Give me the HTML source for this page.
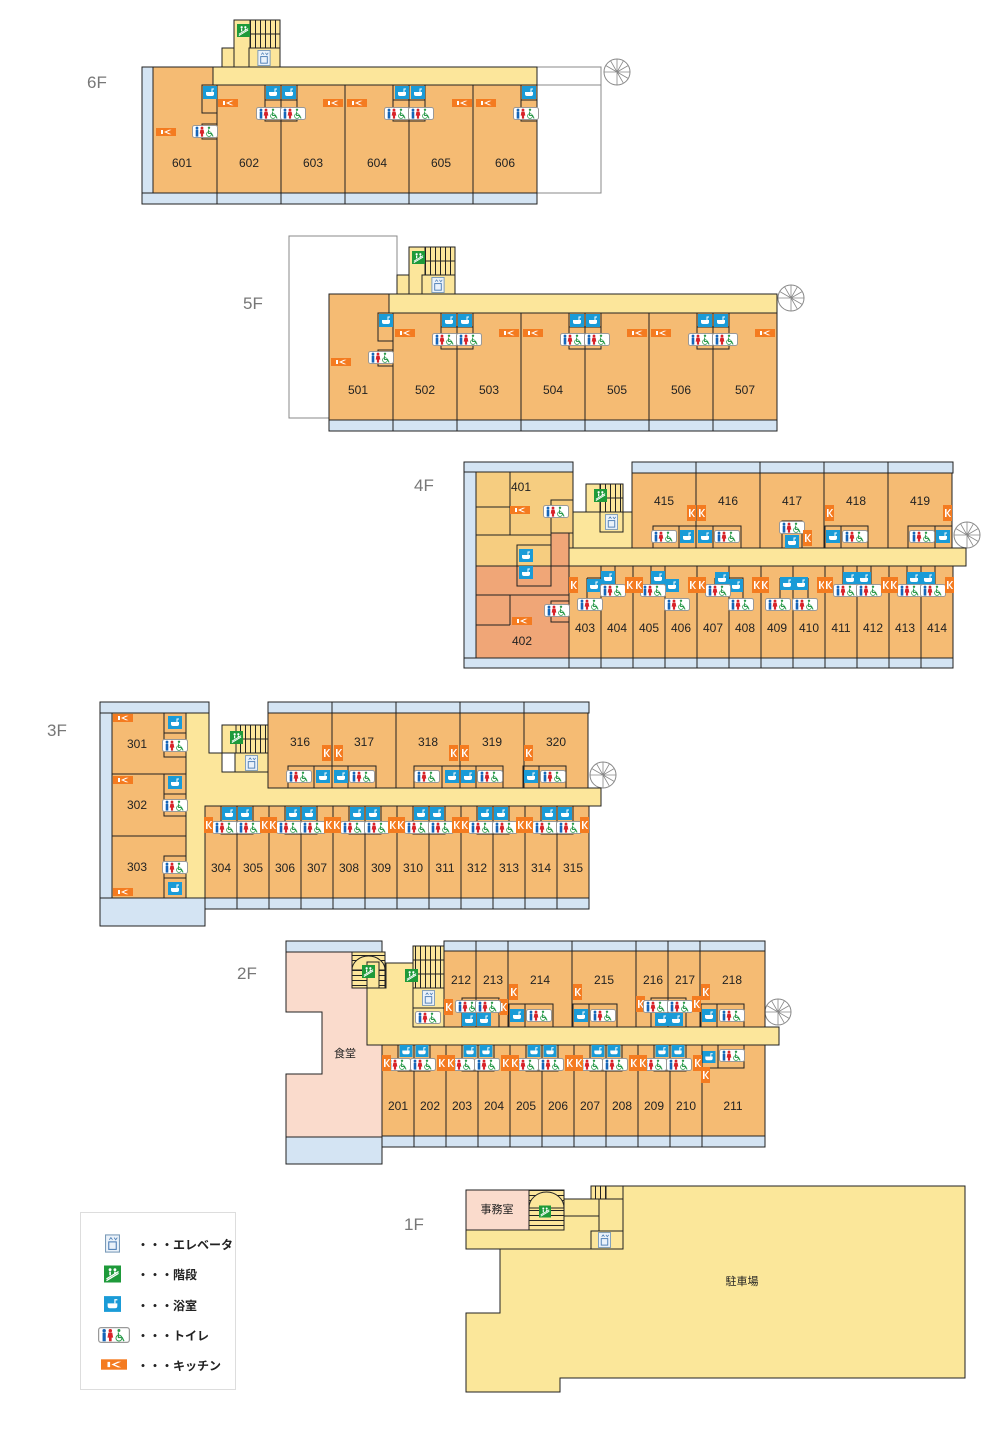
<!DOCTYPE html>
<html><head><meta charset="utf-8"><style>
html,body{margin:0;padding:0;background:#fff;width:1000px;height:1450px;overflow:hidden}
svg{display:block}
.r{fill:#F5BB73;stroke:#222;stroke-width:1}
.c{fill:#FCE69B;stroke:#222;stroke-width:1}
.bl{fill:#D4E4F3;stroke:#222;stroke-width:1}
.ln{stroke:#222;stroke-width:1;fill:none}
.g{stroke:#888;stroke-width:1;fill:none}
.n{font-family:"Liberation Sans",sans-serif;font-size:12px;text-anchor:middle;fill:#222}
.f{font-family:"Liberation Sans",sans-serif;font-size:17px;fill:#777}
.j{font-family:"Liberation Sans","Noto Sans CJK JP",sans-serif;font-size:11px;text-anchor:middle;fill:#222}
.lg{font-family:"Liberation Sans","Noto Sans CJK JP",sans-serif;font-size:12px;font-weight:bold;fill:#222}
</style></head><body>
<svg width="1000" height="1450" viewBox="0 0 1000 1450" xmlns="http://www.w3.org/2000/svg">
<defs>
<symbol id="b" viewBox="0 0 14 13"><rect width="14" height="13" fill="#1A9BD7"/><path d="M3 6h8v2q0 2-2 2h-4q-2 0-2-2z" fill="#fff"/><path d="M9 6v-3h2" stroke="#fff" fill="none"/></symbol>
<symbol id="t" viewBox="0 0 26 13"><rect x=".5" y=".5" width="25" height="12" rx="2" fill="#fff" stroke="#999"/><circle cx="5" cy="3" r="1.4" fill="#1565B8"/><rect x="3.7" y="4.6" width="2.6" height="7" fill="#1565B8"/><circle cx="10" cy="3" r="1.4" fill="#D8232A"/><path d="M8.4 4.6h3.2l.7 4h-1.2v3h-2.2v-3h-1.2z" fill="#D8232A"/><circle cx="17" cy="2.8" r="1.2" fill="#2A9A4A"/><path d="M16.6 4.5v4h3l1.5 3" stroke="#2A9A4A" fill="none"/><circle cx="17" cy="9" r="2.4" stroke="#2A9A4A" fill="none" stroke-width=".8"/></symbol>
<symbol id="kh" viewBox="0 0 20 8"><rect width="20" height="8" fill="#F47B20"/><path d="M5 2h2v4h-2zM8 4l5-2.2h2.5l-5 2.2 5 2.2h-2.5z" fill="#fff"/></symbol>
<symbol id="kv" viewBox="0 0 9 16"><rect width="9" height="16" fill="#F47B20"/><path d="M2 4h1.6v8h-1.6zM3.6 8l3-4h1.5l-3 4 3 4h-1.5z" fill="#fff"/></symbol>
<symbol id="el" viewBox="0 0 14 17"><rect x=".5" y=".5" width="13" height="16" fill="#EAF2FA" stroke="#7a9ab8"/><rect x="3.5" y="7" width="7" height="7" fill="none" stroke="#4d7eb5"/><path d="M4 5l1.5-2 1.5 2M8.5 3l1.5 2 1.5-2" stroke="#4d7eb5" fill="none" stroke-width=".8"/></symbol>
<symbol id="st" viewBox="0 0 14 14"><rect width="14" height="14" fill="#1E9A3A"/><path d="M2 11l10-6M2 12.5l10-6" stroke="#fff" stroke-width="1"/><circle cx="5" cy="3.5" r="1.2" fill="#fff"/><circle cx="9" cy="3.5" r="1.2" fill="#fff"/><path d="M5 5v3M9 5v2" stroke="#fff" stroke-width="1.3"/></symbol>
<symbol id="sp" viewBox="0 0 28 28"><circle cx="14" cy="14" r="13" fill="#fff" stroke="#888"/><path d="M14 14L14 1M14 14L20.5 2.7M14 14L25.3 7.5M14 14L27 14M14 14L25.3 20.5M14 14L20.5 25.3M14 14L14 27M14 14L7.5 2.7M14 14L2.7 7.5M14 14L1 14" stroke="#888" stroke-width=".8"/></symbol>
<pattern id="stp" width="5" height="5" patternUnits="userSpaceOnUse"><rect width="5" height="5" fill="#FCE69B"/><path d="M0.5 0V5" stroke="#222" stroke-width="1"/></pattern>
<pattern id="sth" width="5" height="5" patternUnits="userSpaceOnUse"><rect width="5" height="5" fill="#FCE69B"/><path d="M0 0.5H5" stroke="#222" stroke-width="1"/></pattern>
</defs>

<!-- ================= 6F ================= -->
<text class="f" x="87" y="88">6F</text>
<rect class="g" x="537" y="67" width="64" height="126"/>
<line class="g" x1="537" y1="85" x2="601" y2="85"/>
<use href="#sp" x="603" y="58" width="28" height="28"/>
<rect class="c" x="222" y="48" width="14" height="19"/>
<rect class="c" x="234" y="20" width="46" height="47"/>
<rect x="250" y="20" width="30" height="28" fill="url(#stp)" stroke="#222"/>
<line class="ln" x1="250" y1="34" x2="280" y2="34"/>
<rect class="c" x="249" y="48" width="31" height="19"/>
<use href="#el" x="257" y="50" width="14" height="16"/>
<use href="#st" x="237" y="24" width="13" height="13"/>
<rect class="bl" x="142" y="67" width="11" height="137"/>
<rect class="c" x="213" y="67" width="324" height="18"/>
<path class="r" d="M153 67H213V85H217V193H153Z"/>
<rect class="r" x="217" y="85" width="64" height="108"/>
<rect class="r" x="281" y="85" width="64" height="108"/>
<rect class="r" x="345" y="85" width="64" height="108"/>
<rect class="r" x="409" y="85" width="64" height="108"/>
<rect class="r" x="473" y="85" width="64" height="108"/>
<rect class="bl" x="142" y="193" width="395" height="11"/>
<path class="ln" d="M217 193V204M281 193V204M345 193V204M409 193V204M473 193V204"/>
<rect class="ln" x="202" y="85" width="15" height="28"/>
<rect class="ln" x="202" y="124" width="15" height="15"/>
<rect class="ln" x="265" y="85" width="32" height="36"/><path class="ln" d="M265 100H297"/>
<rect class="ln" x="393" y="85" width="32" height="36"/><path class="ln" d="M393 100H425"/>
<rect class="ln" x="521" y="85" width="16" height="36"/><path class="ln" d="M521 100H537"/>
<use href="#b" x="203" y="86" width="14" height="13"/><use href="#b" x="266" y="86" width="14" height="13"/><use href="#b" x="282" y="86" width="14" height="13"/><use href="#b" x="395" y="86" width="14" height="13"/><use href="#b" x="411" y="86" width="14" height="13"/><use href="#b" x="522" y="86" width="14" height="13"/>
<use href="#t" x="192" y="125" width="26" height="13"/><use href="#t" x="256" y="107" width="26" height="13"/><use href="#t" x="280" y="107" width="26" height="13"/><use href="#t" x="384" y="107" width="26" height="13"/><use href="#t" x="408" y="107" width="26" height="13"/><use href="#t" x="513" y="107" width="26" height="13"/>
<use href="#kh" x="156" y="128" width="20" height="8"/><use href="#kh" x="218" y="99" width="20" height="8"/><use href="#kh" x="323" y="99" width="20" height="8"/><use href="#kh" x="347" y="99" width="20" height="8"/><use href="#kh" x="452" y="99" width="20" height="8"/><use href="#kh" x="476" y="99" width="20" height="8"/>
<text class="n" x="182" y="167">601</text><text class="n" x="249" y="167">602</text><text class="n" x="313" y="167">603</text><text class="n" x="377" y="167">604</text><text class="n" x="441" y="167">605</text><text class="n" x="505" y="167">606</text>

<!-- ================= 5F ================= -->
<text class="f" x="243" y="309">5F</text>
<rect class="g" x="289" y="236" width="108" height="182"/>
<use href="#sp" x="777" y="284" width="28" height="28"/>
<rect class="c" x="397" y="275" width="14" height="19"/>
<rect class="c" x="409" y="247" width="46" height="47"/>
<rect x="425" y="247" width="30" height="28" fill="url(#stp)" stroke="#222"/>
<line class="ln" x1="425" y1="261" x2="455" y2="261"/>
<rect class="c" x="422" y="275" width="33" height="19"/>
<use href="#el" x="431" y="277" width="14" height="16"/>
<use href="#st" x="412" y="251" width="13" height="13"/>
<rect class="c" x="389" y="294" width="388" height="19"/>
<path class="r" d="M329 294H389V313H393V420H329Z"/>
<rect class="r" x="393" y="313" width="64" height="107"/>
<rect class="r" x="457" y="313" width="64" height="107"/>
<rect class="r" x="521" y="313" width="64" height="107"/>
<rect class="r" x="585" y="313" width="64" height="107"/>
<rect class="r" x="649" y="313" width="64" height="107"/>
<rect class="r" x="713" y="313" width="64" height="107"/>
<rect class="bl" x="329" y="420" width="448" height="11"/>
<path class="ln" d="M393 420V431M457 420V431M521 420V431M585 420V431M649 420V431M713 420V431"/>
<rect class="ln" x="378" y="313" width="15" height="28"/>
<rect class="ln" x="378" y="350" width="15" height="16"/>
<rect class="ln" x="441" y="313" width="32" height="36"/><path class="ln" d="M441 327H473"/>
<rect class="ln" x="569" y="313" width="32" height="36"/><path class="ln" d="M569 327H601"/>
<rect class="ln" x="697" y="313" width="32" height="36"/><path class="ln" d="M697 327H729"/>
<use href="#b" x="379" y="314" width="14" height="13"/><use href="#b" x="442" y="314" width="14" height="13"/><use href="#b" x="458" y="314" width="14" height="13"/><use href="#b" x="570" y="314" width="14" height="13"/><use href="#b" x="586" y="314" width="14" height="13"/><use href="#b" x="698" y="314" width="14" height="13"/><use href="#b" x="714" y="314" width="14" height="13"/>
<use href="#t" x="368" y="351" width="26" height="13"/><use href="#t" x="432" y="333" width="26" height="13"/><use href="#t" x="456" y="333" width="26" height="13"/><use href="#t" x="560" y="333" width="26" height="13"/><use href="#t" x="584" y="333" width="26" height="13"/><use href="#t" x="688" y="333" width="26" height="13"/><use href="#t" x="712" y="333" width="26" height="13"/>
<use href="#kh" x="331" y="358" width="20" height="8"/><use href="#kh" x="395" y="329" width="20" height="8"/><use href="#kh" x="499" y="329" width="20" height="8"/><use href="#kh" x="523" y="329" width="20" height="8"/><use href="#kh" x="627" y="329" width="20" height="8"/><use href="#kh" x="651" y="329" width="20" height="8"/><use href="#kh" x="755" y="329" width="20" height="8"/>
<text class="n" x="358" y="394">501</text><text class="n" x="425" y="394">502</text><text class="n" x="489" y="394">503</text><text class="n" x="553" y="394">504</text><text class="n" x="617" y="394">505</text><text class="n" x="681" y="394">506</text><text class="n" x="745" y="394">507</text>

<!-- ================= 4F ================= -->
<text class="f" x="414" y="491">4F</text>
<use href="#sp" x="953" y="521" width="28" height="28"/>
<rect class="bl" x="464" y="462" width="109" height="10"/>
<rect class="bl" x="464" y="472" width="12" height="186"/>
<rect x="476" y="472" width="97" height="94" fill="#F6CD80" stroke="#222"/>
<rect x="476" y="566" width="93" height="92" fill="#F0A677" stroke="#222"/>
<rect x="551" y="533" width="18" height="33" fill="#F0A677" stroke="#222"/>
<rect class="ln" x="476" y="507" width="34" height="28"/>
<path class="ln" d="M476 535H551M510 507V472"/>
<rect class="ln" x="517" y="545" width="34" height="21"/>
<rect class="ln" x="517" y="566" width="34" height="20"/>
<rect class="ln" x="551" y="500" width="22" height="33"/>
<path class="ln" d="M476 595H569M510 595V625M476 625H510"/>
<rect class="ln" x="551" y="601" width="18" height="21"/>
<rect class="c" x="573" y="512" width="59" height="36"/>
<rect class="c" x="569" y="548" width="397" height="18"/>
<rect x="586" y="484" width="37" height="28" fill="url(#stp)" stroke="#222"/>
<rect class="c" x="586" y="484" width="14" height="28"/>
<line class="ln" x1="600" y1="498" x2="623" y2="498"/>
<rect class="c" x="600" y="512" width="23" height="20"/>
<use href="#el" x="605" y="514" width="13" height="16"/>
<use href="#st" x="594" y="489" width="13" height="13"/>
<rect class="bl" x="632" y="462" width="321" height="11"/>
<path class="ln" d="M696 462V473M760 462V473M824 462V473M888 462V473"/>
<rect class="r" x="632" y="473" width="64" height="75"/><rect class="r" x="696" y="473" width="64" height="75"/><rect class="r" x="760" y="473" width="64" height="75"/><rect class="r" x="824" y="473" width="64" height="75"/><rect class="r" x="888" y="473" width="64" height="75"/>
<rect class="ln" x="653" y="526" width="88" height="22"/><path class="ln" d="M679 526V548M713 526V548"/>
<rect class="ln" x="825" y="526" width="43" height="22"/><path class="ln" d="M841 526V548"/>
<rect class="ln" x="908" y="526" width="44" height="22"/><path class="ln" d="M935 526V548"/>
<rect class="ln" x="782" y="521" width="20" height="27"/>
<rect class="r" x="569" y="566" width="32" height="92"/><rect class="r" x="601" y="566" width="32" height="92"/><rect class="r" x="633" y="566" width="32" height="92"/><rect class="r" x="665" y="566" width="32" height="92"/><rect class="r" x="697" y="566" width="32" height="92"/><rect class="r" x="729" y="566" width="32" height="92"/><rect class="r" x="761" y="566" width="32" height="92"/><rect class="r" x="793" y="566" width="32" height="92"/><rect class="r" x="825" y="566" width="32" height="92"/><rect class="r" x="857" y="566" width="32" height="92"/><rect class="r" x="889" y="566" width="32" height="92"/><rect class="r" x="921" y="566" width="32" height="92"/>
<rect class="bl" x="464" y="658" width="489" height="10"/>
<path class="ln" d="M569 658V668M601 658V668M633 658V668M665 658V668M697 658V668M729 658V668M761 658V668M793 658V668M825 658V668M857 658V668M889 658V668M921 658V668"/>
<path class="ln" d="M587 578H601M587 578V611M615 566V585M651 566V597M665 578H651M665 578V611M729 578H715M715 578V597M729 578H743V611M780 578V611M808 578V611M843 566V597M871 566V597M907 566V597M935 566V597"/>
<!-- 4F icons -->
<use href="#b" x="680" y="530" width="14" height="13"/><use href="#b" x="698" y="530" width="14" height="13"/><use href="#b" x="785" y="535" width="14" height="13"/><use href="#b" x="826" y="530" width="14" height="13"/><use href="#b" x="936" y="530" width="14" height="13"/>
<use href="#t" x="651" y="530" width="26" height="13"/><use href="#t" x="714" y="530" width="26" height="13"/><use href="#t" x="779" y="521" width="26" height="13"/><use href="#t" x="842" y="530" width="26" height="13"/><use href="#t" x="909" y="530" width="26" height="13"/>
<use href="#kv" x="687" y="505" width="9" height="16"/><use href="#kv" x="697" y="505" width="9" height="16"/><use href="#kv" x="803" y="530" width="9" height="16"/><use href="#kv" x="825" y="505" width="9" height="16"/><use href="#kv" x="943" y="505" width="9" height="16"/>
<use href="#t" x="543" y="505" width="26" height="13"/><use href="#kh" x="510" y="506" width="20" height="8"/>
<use href="#b" x="519" y="549" width="14" height="13"/><use href="#b" x="519" y="566" width="14" height="13"/>
<use href="#t" x="544" y="604" width="26" height="13"/><use href="#kh" x="512" y="617" width="20" height="8"/>
<use href="#b" x="587" y="579" width="14" height="13"/><use href="#b" x="601" y="571" width="14" height="13"/><use href="#b" x="651" y="571" width="14" height="13"/><use href="#b" x="665" y="579" width="14" height="13"/><use href="#b" x="715" y="572" width="14" height="13"/><use href="#b" x="729" y="579" width="14" height="13"/><use href="#b" x="780" y="577" width="14" height="13"/><use href="#b" x="794" y="577" width="14" height="13"/><use href="#b" x="843" y="572" width="14" height="13"/><use href="#b" x="857" y="572" width="14" height="13"/><use href="#b" x="907" y="572" width="14" height="13"/><use href="#b" x="921" y="572" width="14" height="13"/>
<use href="#t" x="577" y="598" width="26" height="13"/><use href="#t" x="600" y="584" width="26" height="13"/><use href="#t" x="640" y="584" width="26" height="13"/><use href="#t" x="664" y="598" width="26" height="13"/><use href="#t" x="705" y="584" width="26" height="13"/><use href="#t" x="728" y="598" width="26" height="13"/><use href="#t" x="765" y="598" width="26" height="13"/><use href="#t" x="792" y="598" width="26" height="13"/><use href="#t" x="833" y="584" width="26" height="13"/><use href="#t" x="856" y="584" width="26" height="13"/><use href="#t" x="897" y="584" width="26" height="13"/><use href="#t" x="920" y="584" width="26" height="13"/>
<use href="#kv" x="569" y="577" width="9" height="16"/><use href="#kv" x="625" y="577" width="9" height="16"/><use href="#kv" x="634" y="577" width="9" height="16"/><use href="#kv" x="688" y="577" width="9" height="16"/><use href="#kv" x="697" y="577" width="9" height="16"/><use href="#kv" x="752" y="577" width="9" height="16"/><use href="#kv" x="760" y="577" width="9" height="16"/><use href="#kv" x="817" y="577" width="9" height="16"/><use href="#kv" x="824" y="577" width="9" height="16"/><use href="#kv" x="881" y="577" width="9" height="16"/><use href="#kv" x="889" y="577" width="9" height="16"/><use href="#kv" x="945" y="577" width="9" height="16"/>
<text class="n" x="521" y="491">401</text><text class="n" x="522" y="645">402</text>
<text class="n" x="664" y="505">415</text><text class="n" x="728" y="505">416</text><text class="n" x="792" y="505">417</text><text class="n" x="856" y="505">418</text><text class="n" x="920" y="505">419</text>
<text class="n" x="585" y="632">403</text><text class="n" x="617" y="632">404</text><text class="n" x="649" y="632">405</text><text class="n" x="681" y="632">406</text><text class="n" x="713" y="632">407</text><text class="n" x="745" y="632">408</text><text class="n" x="777" y="632">409</text><text class="n" x="809" y="632">410</text><text class="n" x="841" y="632">411</text><text class="n" x="873" y="632">412</text><text class="n" x="905" y="632">413</text><text class="n" x="937" y="632">414</text>

<!-- ================= 3F ================= -->
<text class="f" x="47" y="736">3F</text>
<use href="#sp" x="589" y="761" width="28" height="28"/>
<rect class="bl" x="100" y="702" width="109" height="11"/>
<rect class="bl" x="100" y="713" width="12" height="185"/>
<rect class="r" x="112" y="713" width="74" height="61"/><rect class="r" x="112" y="774" width="74" height="62"/><rect class="r" x="112" y="836" width="74" height="62"/>
<rect class="ln" x="164" y="713" width="22" height="20"/><rect class="ln" x="164" y="733" width="22" height="24"/>
<rect class="ln" x="164" y="774" width="22" height="20"/><rect class="ln" x="164" y="794" width="22" height="22"/>
<rect class="ln" x="164" y="856" width="22" height="22"/><rect class="ln" x="164" y="878" width="22" height="20"/>
<path class="c" d="M186 713H209V753H222V772H268V788H601V806H205V898H186Z"/>
<rect x="222" y="725" width="46" height="28" fill="url(#stp)" stroke="#222"/>
<rect class="c" x="222" y="725" width="14" height="28"/>
<line class="ln" x1="236" y1="739" x2="268" y2="739"/>
<rect class="c" x="235" y="753" width="33" height="19"/>
<use href="#el" x="245" y="755" width="13" height="16"/>
<use href="#st" x="230" y="731" width="13" height="13"/>
<rect class="bl" x="100" y="898" width="105" height="28"/>
<rect class="bl" x="268" y="702" width="321" height="11"/>
<path class="ln" d="M332 702V713M396 702V713M460 702V713M524 702V713"/>
<rect class="r" x="268" y="713" width="64" height="75"/><rect class="r" x="332" y="713" width="64" height="75"/><rect class="r" x="396" y="713" width="64" height="75"/><rect class="r" x="460" y="713" width="64" height="75"/><rect class="r" x="524" y="713" width="64" height="75"/>
<rect class="ln" x="288" y="766" width="88" height="22"/><path class="ln" d="M314 766V788M332 766V788M348 766V788"/>
<rect class="ln" x="414" y="766" width="89" height="22"/><path class="ln" d="M442 766V788M460 766V788M476 766V788"/>
<rect class="ln" x="523" y="766" width="43" height="22"/><path class="ln" d="M539 766V788"/>
<rect class="r" x="205" y="806" width="32" height="92"/><rect class="r" x="237" y="806" width="32" height="92"/><rect class="r" x="269" y="806" width="32" height="92"/><rect class="r" x="301" y="806" width="32" height="92"/><rect class="r" x="333" y="806" width="32" height="92"/><rect class="r" x="365" y="806" width="32" height="92"/><rect class="r" x="397" y="806" width="32" height="92"/><rect class="r" x="429" y="806" width="32" height="92"/><rect class="r" x="461" y="806" width="32" height="92"/><rect class="r" x="493" y="806" width="32" height="92"/><rect class="r" x="525" y="806" width="32" height="92"/><rect class="r" x="557" y="806" width="32" height="92"/>
<rect class="bl" x="205" y="898" width="384" height="11"/>
<path class="ln" d="M237 898V909M269 898V909M301 898V909M333 898V909M365 898V909M397 898V909M429 898V909M461 898V909M493 898V909M525 898V909M557 898V909"/>
<path class="ln" d="M221 806V834H253V806M285 806V834H317V806M349 806V834H381V806M413 806V834H445V806M477 806V834H509V806M541 806V834H573V806"/>
<use href="#kh" x="113" y="714" width="20" height="8"/><use href="#kh" x="113" y="776" width="20" height="8"/><use href="#kh" x="113" y="888" width="20" height="8"/>
<use href="#b" x="168" y="716" width="14" height="13"/><use href="#b" x="168" y="776" width="14" height="13"/><use href="#b" x="168" y="882" width="14" height="13"/>
<use href="#t" x="162" y="739" width="26" height="13"/><use href="#t" x="162" y="799" width="26" height="13"/><use href="#t" x="162" y="861" width="26" height="13"/>
<use href="#kv" x="322" y="745" width="9" height="16"/><use href="#kv" x="334" y="745" width="9" height="16"/><use href="#kv" x="449" y="745" width="9" height="16"/><use href="#kv" x="460" y="745" width="9" height="16"/><use href="#kv" x="524" y="745" width="9" height="16"/>
<use href="#t" x="286" y="770" width="26" height="13"/><use href="#b" x="316" y="770" width="14" height="13"/><use href="#b" x="334" y="770" width="14" height="13"/><use href="#t" x="349" y="770" width="26" height="13"/>
<use href="#t" x="414" y="770" width="26" height="13"/><use href="#b" x="445" y="770" width="14" height="13"/><use href="#b" x="461" y="770" width="14" height="13"/><use href="#t" x="477" y="770" width="26" height="13"/>
<use href="#b" x="524" y="770" width="14" height="13"/><use href="#t" x="540" y="770" width="26" height="13"/>
<use href="#b" x="222" y="807" width="14" height="13"/><use href="#b" x="238" y="807" width="14" height="13"/><use href="#t" x="212" y="821" width="26" height="13"/><use href="#t" x="236" y="821" width="26" height="13"/><use href="#kv" x="204" y="817" width="9" height="16"/><use href="#kv" x="260" y="817" width="9" height="16"/>
<use href="#b" x="286" y="807" width="14" height="13"/><use href="#b" x="302" y="807" width="14" height="13"/><use href="#t" x="276" y="821" width="26" height="13"/><use href="#t" x="300" y="821" width="26" height="13"/><use href="#kv" x="268" y="817" width="9" height="16"/><use href="#kv" x="324" y="817" width="9" height="16"/>
<use href="#b" x="350" y="807" width="14" height="13"/><use href="#b" x="366" y="807" width="14" height="13"/><use href="#t" x="340" y="821" width="26" height="13"/><use href="#t" x="364" y="821" width="26" height="13"/><use href="#kv" x="332" y="817" width="9" height="16"/><use href="#kv" x="388" y="817" width="9" height="16"/>
<use href="#b" x="414" y="807" width="14" height="13"/><use href="#b" x="430" y="807" width="14" height="13"/><use href="#t" x="404" y="821" width="26" height="13"/><use href="#t" x="428" y="821" width="26" height="13"/><use href="#kv" x="396" y="817" width="9" height="16"/><use href="#kv" x="452" y="817" width="9" height="16"/>
<use href="#b" x="478" y="807" width="14" height="13"/><use href="#b" x="494" y="807" width="14" height="13"/><use href="#t" x="468" y="821" width="26" height="13"/><use href="#t" x="492" y="821" width="26" height="13"/><use href="#kv" x="460" y="817" width="9" height="16"/><use href="#kv" x="516" y="817" width="9" height="16"/>
<use href="#b" x="542" y="807" width="14" height="13"/><use href="#b" x="558" y="807" width="14" height="13"/><use href="#t" x="532" y="821" width="26" height="13"/><use href="#t" x="556" y="821" width="26" height="13"/><use href="#kv" x="524" y="817" width="9" height="16"/><use href="#kv" x="580" y="817" width="9" height="16"/>
<text class="n" x="137" y="748">301</text><text class="n" x="137" y="809">302</text><text class="n" x="137" y="871">303</text>
<text class="n" x="300" y="746">316</text><text class="n" x="364" y="746">317</text><text class="n" x="428" y="746">318</text><text class="n" x="492" y="746">319</text><text class="n" x="556" y="746">320</text>
<text class="n" x="221" y="872">304</text><text class="n" x="253" y="872">305</text><text class="n" x="285" y="872">306</text><text class="n" x="317" y="872">307</text><text class="n" x="349" y="872">308</text><text class="n" x="381" y="872">309</text><text class="n" x="413" y="872">310</text><text class="n" x="445" y="872">311</text><text class="n" x="477" y="872">312</text><text class="n" x="509" y="872">313</text><text class="n" x="541" y="872">314</text><text class="n" x="573" y="872">315</text>

<!-- ================= 2F ================= -->
<text class="f" x="237" y="979">2F</text>
<use href="#sp" x="764" y="998" width="28" height="28"/>
<rect class="bl" x="286" y="941" width="96" height="11"/>
<path d="M286 952H352V988H367V1045H382V1137H286V1074H322V1012H286Z" fill="#FADBCC" stroke="#222"/>
<rect x="352" y="952" width="33" height="36" fill="url(#sth)" stroke="#222"/>
<path d="M352 970A16.5 14 0 0 1 385 970Z" fill="#FCE69B" stroke="#222"/>
<rect class="c" x="367" y="962" width="12" height="26"/>
<path class="c" d="M367 988H386V963H413V1027H779V1045H382V1045H367Z"/>
<rect x="413" y="946" width="31" height="42" fill="url(#stp)" stroke="#222"/>
<path class="ln" d="M413 960H444M413 974H444"/>
<rect class="c" x="413" y="988" width="31" height="20"/><rect class="c" x="413" y="1008" width="31" height="19"/>
<use href="#el" x="422" y="990" width="13" height="16"/>
<use href="#t" x="415" y="1011" width="26" height="13"/>
<use href="#st" x="362" y="965" width="13" height="13"/>
<use href="#st" x="405" y="969" width="13" height="13"/>
<rect class="bl" x="444" y="941" width="321" height="10"/>
<path class="ln" d="M476 941V951M508 941V951M572 941V951M636 941V951M668 941V951M700 941V951"/>
<rect class="r" x="444" y="951" width="32" height="76"/><rect class="r" x="476" y="951" width="32" height="76"/><rect class="r" x="508" y="951" width="64" height="76"/><rect class="r" x="572" y="951" width="64" height="76"/><rect class="r" x="636" y="951" width="32" height="76"/><rect class="r" x="668" y="951" width="32" height="76"/><rect class="r" x="700" y="951" width="65" height="76"/>
<rect class="ln" x="462" y="998" width="37" height="29"/>
<rect class="ln" x="509" y="1004" width="44" height="23"/><path class="ln" d="M525 1004V1027"/>
<rect class="ln" x="573" y="1004" width="44" height="23"/><path class="ln" d="M589 1004V1027"/>
<rect class="ln" x="651" y="998" width="35" height="29"/>
<rect class="ln" x="701" y="1004" width="43" height="23"/><path class="ln" d="M717 1004V1027"/>
<rect class="r" x="382" y="1045" width="32" height="91"/><rect class="r" x="414" y="1045" width="32" height="91"/><rect class="r" x="446" y="1045" width="32" height="91"/><rect class="r" x="478" y="1045" width="32" height="91"/><rect class="r" x="510" y="1045" width="32" height="91"/><rect class="r" x="542" y="1045" width="32" height="91"/><rect class="r" x="574" y="1045" width="32" height="91"/><rect class="r" x="606" y="1045" width="32" height="91"/><rect class="r" x="638" y="1045" width="32" height="91"/><rect class="r" x="670" y="1045" width="32" height="91"/><rect class="r" x="702" y="1045" width="63" height="91"/>
<rect class="bl" x="382" y="1136" width="383" height="11"/>
<path class="ln" d="M414 1136V1147M446 1136V1147M478 1136V1147M510 1136V1147M542 1136V1147M574 1136V1147M606 1136V1147M638 1136V1147M670 1136V1147M702 1136V1147"/>
<rect class="bl" x="286" y="1137" width="96" height="27"/>
<path class="ln" d="M398 1045V1071H430V1045M462 1045V1071H494V1045M526 1045V1071H558V1045M590 1045V1071H622V1045M654 1045V1071H686V1045M702 1068H744V1045M718 1045V1068"/>
<use href="#kv" x="444" y="999" width="9" height="16"/><use href="#kv" x="499" y="999" width="9" height="16"/>
<use href="#t" x="455" y="1000" width="26" height="13"/><use href="#t" x="475" y="1000" width="26" height="13"/>
<use href="#b" x="462" y="1013" width="14" height="13"/><use href="#b" x="477" y="1013" width="14" height="13"/>
<use href="#kv" x="509" y="984" width="9" height="16"/><use href="#b" x="510" y="1009" width="14" height="13"/><use href="#t" x="526" y="1009" width="26" height="13"/>
<use href="#kv" x="573" y="984" width="9" height="16"/><use href="#b" x="574" y="1009" width="14" height="13"/><use href="#t" x="590" y="1009" width="26" height="13"/>
<use href="#kv" x="636" y="996" width="9" height="16"/><use href="#t" x="643" y="1000" width="26" height="13"/><use href="#t" x="667" y="1000" width="26" height="13"/>
<use href="#b" x="655" y="1013" width="14" height="13"/><use href="#b" x="669" y="1013" width="14" height="13"/><use href="#kv" x="692" y="996" width="9" height="16"/>
<use href="#kv" x="701" y="984" width="9" height="16"/><use href="#b" x="702" y="1009" width="14" height="13"/><use href="#t" x="719" y="1009" width="26" height="13"/>
<use href="#b" x="399" y="1045" width="14" height="12"/><use href="#b" x="415" y="1045" width="14" height="12"/><use href="#t" x="385" y="1058" width="26" height="13"/><use href="#t" x="410" y="1058" width="26" height="13"/><use href="#kv" x="382" y="1055" width="9" height="16"/><use href="#kv" x="437" y="1055" width="9" height="16"/>
<use href="#b" x="463" y="1045" width="14" height="12"/><use href="#b" x="479" y="1045" width="14" height="12"/><use href="#t" x="449" y="1058" width="26" height="13"/><use href="#t" x="474" y="1058" width="26" height="13"/><use href="#kv" x="446" y="1055" width="9" height="16"/><use href="#kv" x="501" y="1055" width="9" height="16"/>
<use href="#b" x="527" y="1045" width="14" height="12"/><use href="#b" x="543" y="1045" width="14" height="12"/><use href="#t" x="513" y="1058" width="26" height="13"/><use href="#t" x="538" y="1058" width="26" height="13"/><use href="#kv" x="510" y="1055" width="9" height="16"/><use href="#kv" x="565" y="1055" width="9" height="16"/>
<use href="#b" x="591" y="1045" width="14" height="12"/><use href="#b" x="607" y="1045" width="14" height="12"/><use href="#t" x="577" y="1058" width="26" height="13"/><use href="#t" x="602" y="1058" width="26" height="13"/><use href="#kv" x="574" y="1055" width="9" height="16"/><use href="#kv" x="629" y="1055" width="9" height="16"/>
<use href="#b" x="655" y="1045" width="14" height="12"/><use href="#b" x="671" y="1045" width="14" height="12"/><use href="#t" x="641" y="1058" width="26" height="13"/><use href="#t" x="666" y="1058" width="26" height="13"/><use href="#kv" x="638" y="1055" width="9" height="16"/><use href="#kv" x="693" y="1055" width="9" height="16"/>
<use href="#b" x="702" y="1051" width="14" height="12"/><use href="#t" x="719" y="1049" width="26" height="13"/><use href="#kv" x="701" y="1067" width="9" height="16"/>
<text class="j" x="345" y="1057">食堂</text>
<text class="n" x="461" y="984">212</text><text class="n" x="493" y="984">213</text><text class="n" x="540" y="984">214</text><text class="n" x="604" y="984">215</text><text class="n" x="653" y="984">216</text><text class="n" x="685" y="984">217</text><text class="n" x="732" y="984">218</text>
<text class="n" x="398" y="1110">201</text><text class="n" x="430" y="1110">202</text><text class="n" x="462" y="1110">203</text><text class="n" x="494" y="1110">204</text><text class="n" x="526" y="1110">205</text><text class="n" x="558" y="1110">206</text><text class="n" x="590" y="1110">207</text><text class="n" x="622" y="1110">208</text><text class="n" x="654" y="1110">209</text><text class="n" x="686" y="1110">210</text><text class="n" x="733" y="1110">211</text>

<!-- ================= 1F ================= -->
<text class="f" x="404" y="1230">1F</text>
<path d="M466 1190H564V1199H591V1186H965V1378H560V1392H466V1313H500V1249H466Z" fill="#FBE79A" stroke="#222"/>
<rect x="466" y="1190" width="63" height="40" fill="#FADBCC" stroke="#222"/>
<rect x="529" y="1190" width="35" height="40" fill="url(#sth)" stroke="#222"/>
<path d="M529 1208A17.5 16 0 0 1 564 1208Z" fill="#FCE69B" stroke="#222"/>
<path class="ln" d="M500 1249H623V1186M564 1216H599M599 1199V1231M564 1199H623"/>
<rect x="591" y="1186" width="15" height="13" fill="url(#stp)" stroke="#222"/>
<rect class="c" x="591" y="1231" width="32" height="18"/>
<use href="#el" x="598" y="1232" width="13" height="16"/>
<use href="#st" x="539" y="1205" width="12" height="13"/>
<text class="j" x="497" y="1213">事務室</text>
<text class="j" x="742" y="1285">駐車場</text>

<!-- ================= Legend ================= -->
<rect x="80.5" y="1212.5" width="155" height="177" fill="#fff" stroke="#ddd"/>
<use href="#el" x="105" y="1234" width="15" height="19"/>
<text class="lg" x="137" y="1249">・・・エレベータ</text>
<use href="#st" x="104" y="1264" width="17" height="20"/>
<text class="lg" x="137" y="1279">・・・階段</text>
<use href="#b" x="104" y="1294" width="17" height="20"/>
<text class="lg" x="137" y="1310">・・・浴室</text>
<use href="#t" x="98" y="1326" width="32" height="18"/>
<text class="lg" x="137" y="1340">・・・トイレ</text>
<use href="#kh" x="101" y="1359" width="26" height="11"/>
<text class="lg" x="137" y="1370">・・・キッチン</text>
</svg>
</body></html>
